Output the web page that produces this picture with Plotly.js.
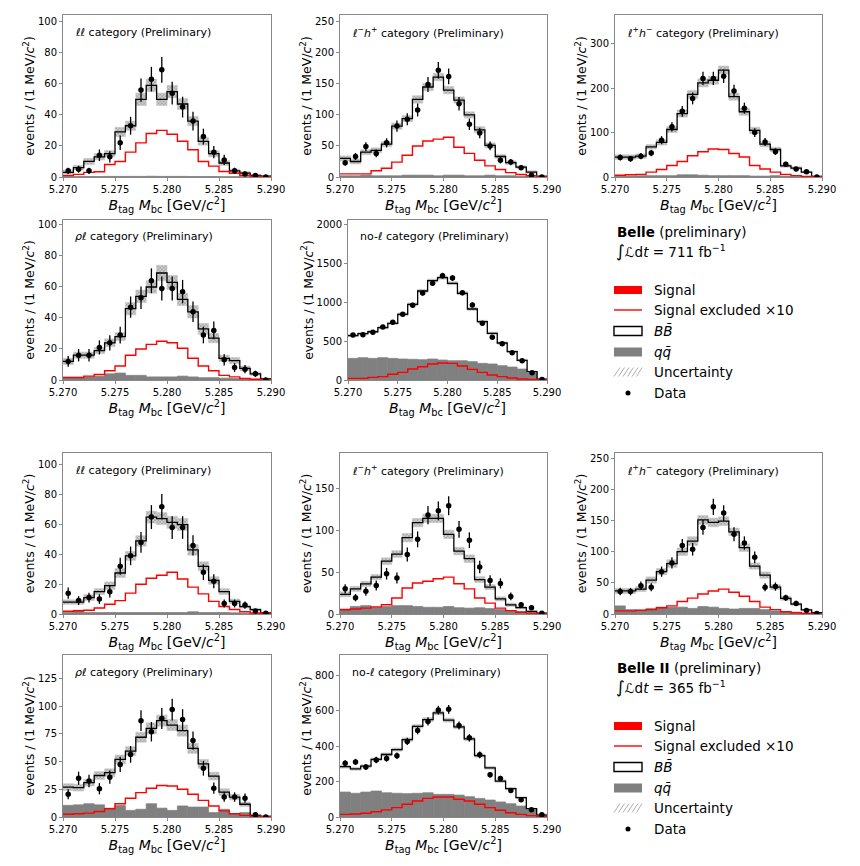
<!DOCTYPE html>
<html><head><meta charset="utf-8">
<script src="https://cdn.plot.ly/plotly-3.0.1.min.js"></script>
<style>html,body{margin:0;padding:0;background:#fff}</style>
</head><body><div id="chart" style="width:860px;height:866px"></div>
<script>
// ---- binning / ticks ----
const binLow = 5.270, binWidth = 0.001, nBins = 20;
const xTickVals = [5.270, 5.275, 5.280, 5.285, 5.290];
const xTickText = ['5.270', '5.275', '5.280', '5.285', '5.290'];

// ---- Belle: ll ----
const belleLL_total = [3,6,10,13,15,29,33,50,59,50,55,47,36,23,15,9,4,2.5,1,0.5];
const belleLL_data  = [4,5,4,14,13,22,33,56,63,69,54,45,36,26,16,11,4,2,1,0];
const belleLL_sigx  = [0.9,1.7,3,3.4,8,10,16,22,28,30,27.5,23,17.5,10,7,3.5,2.4,1,0.5,0.2];
const belleLL_qq    = [0.3,0.3,0.3,0.3,0.4,0.4,0.4,0.4,0.5,0.4,0.4,0.4,0.3,0.3,0.3,0.2,0.2,0.1,0.1,0.1];
const belleLL_unc   = [1.5,1.5,2,2,2,3,3,4,4,4,4,3.5,3,2.5,2,1.5,1,1,0.5,0.3];
// ---- Belle: l-h+ ----
const belleLmHp_total = [30,25,40,43,53,82,94,125,145,161,140,124,100,76,51,33,23,16,8,1];
const belleLmHp_data  = [23,33,49,38,55,82,93,108,149,172,162,118,85,71,50,27,24,15,3,0];
const belleLmHp_sigx  = [5,5,5,10,14,24,35,50,58,61,64,48,38,27,18,12,7,4,2,1];
const belleLmHp_qq    = [2,2,3,2,2,2,3,3,3,2,3,3,2,2,3,2,2,1,1,0];
const belleLmHp_unc   = [4,4,4,4,4,5,5,6,6,6,6,5,5,5,4,3,3,2,2,1];
// ---- Belle: l+h- ----
const belleLpHm_total = [45,45,47,68,78,107,143,186,212,218,241,181,147,105,74,62,25,20,11,1.5];
const belleLpHm_data  = [44,41,47,54,83,113,148,177,222,222,227,194,155,100,79,57,29,18,12,0];
const belleLpHm_sigx  = [4,5,6,11,17,26,35,48,57,63,62,53,45,26,18,11,6,3,1.5,0.5];
const belleLpHm_qq    = [2,2,3,3,3,3,5,5,4,3,3,3,3,2,2,3,2,1,1,0];
const belleLpHm_unc   = [5,5,5,5,6,7,8,9,9,9,9,8,8,7,6,5,3,3,2,1];
// ---- Belle: rho l ----
const belleRhoL_total = [12,16,16,19,24,28,46,54,60,69,63,52,44,33,27,14,12.5,7.5,4,0.7];
const belleRhoL_data  = [12,16,16,21,24,29,47,53,64,59,59,57,44,29,32,13,8,7,4,0];
const belleRhoL_sigx  = [1.5,1.5,2.5,3.5,6,9,16,20,23,25,24,20.5,14,9,6,3,2,1,0.5,0.2];
const belleRhoL_qq    = [2,2,2,2.5,4,4.5,3,3,2,2,2,2.5,2,1.5,1.5,1.2,1,0.5,0.5,0.2];
const belleRhoL_unc   = [2,2,2,2,2.5,2.5,4,4,4,5,4.5,4,4,3.5,3,2,2,1.5,1,0.5];
// ---- Belle: no-l ----
const belleNoL_total = [570,595,620,672,728,844,972,1143,1276,1315,1242,1113,912,749,600,475,364,253,107,8];
const belleNoL_data  = [578,582,612,681,741,844,959,1118,1242,1340,1310,1122,963,728,548,467,351,248,94,5];
const belleNoL_sigx  = [21,21,34,43,73,98,141,171,206,218,214,180,137,98,64,43,26,13,8,4];
const belleNoL_qq    = [278,287,278,287,278,270,266,261,270,257,248,248,236,214,206,184,167,141,98,21];
const belleNoL_unc   = [15,15,15,15,15,18,18,20,20,20,20,20,18,18,15,15,12,12,8,3];
// ---- Belle II: ll ----
const b2LL_total = [8,8,11,15,19,27.5,39,49,65,64,61.5,60,43,32,22.5,15,8.5,5,3,0.7];
const b2LL_data  = [14,9,11,10,15,32,39,48,65,72,58,58,46,28,22,7,7,6,2,0.5];
const b2LL_sigx  = [1.8,2.2,2.5,4,6.5,9,14,20,24,26,28,23.5,18,13.5,8.5,5,3,1.5,0.7,0.3];
const b2LL_qq    = [1,2.5,1,1,1,1,1,1,1,1,1,1,1.5,1,1,1,0.8,0.5,0.3,0.1];
const b2LL_unc   = [1.5,1.5,2,2,2.5,3,3,3.5,4,4,4,4,3.5,3,2.5,2,1.5,1,0.8,0.5];
// ---- Belle II: l-h+ ----
const b2LmHp_total = [23.5,30,36,44,63,71.5,91,109,114,114,95,75,66,41,32,18,11,7.5,3,1];
const b2LmHp_data  = [30,19.5,27,34,48,43,71,89,118,123,129,101,88,56,40,36.5,21,11,7.5,1];
const b2LmHp_sigx  = [5,6,7,8.5,11,19,31,37,39,42,44,36,30,19,13,7,4,2,1,0.5];
const b2LmHp_qq    = [6,9,10,8,9,10,10,9,8,8,9,7.5,7,7.5,6.5,5.5,4,3,1.5,0.5];
const b2LmHp_unc   = [3,3,3,3,4,4,5,5,5,5,5,4.5,4.5,3.5,3,2.5,2,1.5,1,0.5];
// ---- Belle II: l+h- ----
const b2LpHm_total = [37,37,40,54.5,68,81,100,117,151,147,149,132,106.5,77,62.5,43,25,16,6.5,2];
const b2LpHm_data  = [36,36,45.5,43,68,82,110,104,139,172,162,128,114,91,43,44,26,17,5.5,1];
const b2LpHm_sigx  = [5,5,6,7,10,13,20,25.5,32,37,40,35,28.5,20,11,7,3.5,2,1,0.4];
const b2LpHm_qq    = [13,7,6,9,11,11,11,9,12,11,9,8,9,9,7,5,4,3,1.5,0.5];
const b2LpHm_unc   = [4,4,4,5,5,6,6,7,7,7,7,6,6,5,5,4,3,2,1.5,1];
// ---- Belle II: rho l ----
const b2RhoL_total = [27,26.5,31,37.5,40,52,59.5,72,80,87,83,78,62,48,37,22.5,18,11.5,1.5,0.6];
const b2RhoL_data  = [20.5,35,32.5,25.5,36,47.5,56.5,87,77,89,97,88,69,44,26,18,18,17,2,0];
const b2RhoL_sigx  = [2.5,3,3.5,5,7.5,12,17,22,26,28.5,28,25,20.5,15,10,5.5,3,1.5,0.7,0.3];
const b2RhoL_qq    = [10.5,11,12,11,8,10.5,6,7,12,8,6,10,9,9,4,7,3,4,1,0.5];
const b2RhoL_unc   = [3,3,3,3.5,3.5,4,4,4.5,5,5,5,5,4.5,4,3.5,3,2.5,2,1,0.5];
// ---- Belle II: no-l ----
const b2NoL_total = [284,272,287,325,353,381,437,512,550,588,547,509,441,347,278,203,160,109,47,11];
const b2NoL_data  = [303,311,282,322,331,346,427,489,540,604,608,517,447,351,239,218,149,98,41,13];
const b2NoL_sigx  = [15,17,21,30,40,53,72,90,105,113,113,100,90,72,53,38,24,15,8,4];
const b2NoL_qq    = [141,134,141,147,137,134,132,134,137,128,128,124,115,105,96,85,75,62,47,15];
const b2NoL_unc   = [8,8,8,8,9,9,10,10,11,11,11,10,10,9,8,7,6,5,3,2];

// ---- labels ----
const catLL = '<i>ℓℓ</i> category (Preliminary)';
const catLmHp = '<i>ℓ</i><sup>−</sup><i>h</i><sup>+</sup> category (Preliminary)';
const catLpHm = '<i>ℓ</i><sup>+</sup><i>h</i><sup>−</sup> category (Preliminary)';
const catRhoL = '<i>ρℓ</i> category (Preliminary)';
const catNoL = 'no-<i>ℓ</i> category (Preliminary)';
const xTitle = '<i>B</i><sub>tag</sub> <i>M</i><sub>bc</sub> [GeV/<i>c</i><sup>2</sup>]';
const yTitle = 'events / (1 MeV/<i>c</i><sup>2</sup>)';
const legendLabels = ['Signal', 'Signal excluded ×10', '<i>B</i><i>B̄</i>', '<i>q</i><i>q̄</i>', 'Uncertainty', 'Data'];

// ---- panel layout (pixel boxes) ----
const W = 860, H = 866;
const panels = [
  {lab:catLL,   t:belleLL_total,  d:belleLL_data,  s:belleLL_sigx,  q:belleLL_qq,  u:belleLL_unc,  bx:[63,271],  by:[15,177],  yr:104.3, dt:20},
  {lab:catLmHp, t:belleLmHp_total,d:belleLmHp_data,s:belleLmHp_sigx,q:belleLmHp_qq,u:belleLmHp_unc,bx:[340,547], by:[15,177],  yr:261,   dt:50},
  {lab:catLpHm, t:belleLpHm_total,d:belleLpHm_data,s:belleLpHm_sigx,q:belleLpHm_qq,u:belleLpHm_unc,bx:[615,822], by:[15,177],  yr:365,   dt:100},
  {lab:catRhoL, t:belleRhoL_total,d:belleRhoL_data,s:belleRhoL_sigx,q:belleRhoL_qq,u:belleRhoL_unc,bx:[63,271],  by:[220,380], yr:103.2, dt:20},
  {lab:catNoL,  t:belleNoL_total, d:belleNoL_data, s:belleNoL_sigx, q:belleNoL_qq, u:belleNoL_unc, bx:[348,547], by:[220,380], yr:2055,  dt:500},
  {lab:catLL,   t:b2LL_total,     d:b2LL_data,     s:b2LL_sigx,     q:b2LL_qq,     u:b2LL_unc,     bx:[63,271],  by:[453,614], yr:108,   dt:20},
  {lab:catLmHp, t:b2LmHp_total,   d:b2LmHp_data,   s:b2LmHp_sigx,   q:b2LmHp_qq,   u:b2LmHp_unc,   bx:[340,547], by:[453,614], yr:192,   dt:50},
  {lab:catLpHm, t:b2LpHm_total,   d:b2LpHm_data,   s:b2LpHm_sigx,   q:b2LpHm_qq,   u:b2LpHm_unc,   bx:[615,822], by:[453,614], yr:258.5, dt:50},
  {lab:catRhoL, t:b2RhoL_total,   d:b2RhoL_data,   s:b2RhoL_sigx,   q:b2RhoL_qq,   u:b2RhoL_unc,   bx:[63,271],  by:[655,817], yr:146.3, dt:25},
  {lab:catNoL,  t:b2NoL_total,    d:b2NoL_data,    s:b2NoL_sigx,    q:b2NoL_qq,    u:b2NoL_unc,    bx:[340,547], by:[655,817], yr:915,   dt:200}
];

const FONT = 'DejaVu Sans, sans-serif';
const centers = Array.from({length:nBins}, (_, i) => +(binLow + (i + 0.5) * binWidth).toFixed(4));
const edges = Array.from({length:nBins + 1}, (_, i) => +(binLow + i * binWidth).toFixed(4));
const stepY = arr => arr.concat([arr[arr.length - 1]]);

const traces = [];
const layout = {
  width: W, height: H, margin: {l:0, r:0, t:0, b:0},
  paper_bgcolor: '#fff', plot_bgcolor: '#fff',
  showlegend: false, barmode: 'overlay',
  font: {family: FONT, color: '#000'},
  annotations: [], shapes: []
};

panels.forEach((p, i) => {
  const n = i + 1, sx = n === 1 ? '' : String(n);
  const xa = 'x' + sx, ya = 'y' + sx;
  traces.push({type:'bar', x:centers, y:p.q, width:binWidth, xaxis:xa, yaxis:ya,
    marker:{color:'#808080', line:{width:0.7, color:'#808080'}}, hoverinfo:'skip'});
  traces.push({type:'bar', x:centers, y:p.u.map(v => 2 * v), base:p.t.map((v, j) => v - p.u[j]),
    width:binWidth, xaxis:xa, yaxis:ya, hoverinfo:'skip',
    marker:{color:'#cccccc', line:{width:0.6, color:'#c4c4c4'},
      pattern:{shape:'x', fgcolor:'#8c8c8c', bgcolor:'#cfcfcf', size:2.5, solidity:0.35}}});
  traces.push({type:'scatter', mode:'lines', x:edges, y:stepY(p.t), xaxis:xa, yaxis:ya,
    line:{shape:'hv', color:'#000', width:1.3}, hoverinfo:'skip'});
  traces.push({type:'scatter', mode:'lines', x:edges, y:stepY(p.s), xaxis:xa, yaxis:ya,
    line:{shape:'hv', color:'#ff0000', width:1.4}, hoverinfo:'skip'});
  traces.push({type:'scatter', mode:'markers', x:centers, y:p.d, xaxis:xa, yaxis:ya,
    marker:{color:'#000', size:5.5},
    error_y:{type:'sqrt', color:'#000', thickness:1.3, width:0}});

  layout['xaxis' + sx] = {
    domain:[p.bx[0] / W, p.bx[1] / W], range:[binLow, binLow + nBins * binWidth], anchor:ya,
    tickmode:'array', tickvals:xTickVals, ticktext:xTickText,
    ticks:'outside', ticklen:3, tickcolor:'#888', showline:true, linecolor:'#888', linewidth:1, mirror:true,
    showgrid:false, zeroline:false, tickfont:{size:10, family:FONT, color:'#000'},
    title:{text:xTitle, font:{size:14, family:FONT, color:'#000'}, standoff:3}
  };
  layout['yaxis' + sx] = {
    domain:[1 - p.by[1] / H, 1 - p.by[0] / H], range:[0, p.yr], anchor:xa, dtick:p.dt,
    ticks:'outside', ticklen:3, tickcolor:'#888', showline:true, linecolor:'#888', linewidth:1, mirror:true,
    showgrid:false, zeroline:false, tickfont:{size:10, family:FONT, color:'#000'},
    title:{text:yTitle, font:{size:12.5, family:FONT, color:'#000'}, standoff:0}
  };
  layout.annotations.push({xref:xa + ' domain', yref:ya + ' domain', x:0, y:1, xanchor:'left', yanchor:'middle',
    xshift:10, yshift:-17, text:p.lab, showarrow:false, font:{size:11, family:FONT, color:'#000'}});
});

// ---- manual legend blocks ----
const px = x => x / W, py = y => 1 - y / H;
function legendBlock(dy, experiment, lumi) {
  const A = layout.annotations, S = layout.shapes;
  A.push({xref:'paper', yref:'paper', x:px(615), y:py(232 + dy), xanchor:'left', yanchor:'middle', showarrow:false,
    text:'<b>' + experiment + '</b> (preliminary)', font:{size:13.5, family:FONT, color:'#000'}});
  A.push({xref:'paper', yref:'paper', x:px(614), y:py(251 + dy), xanchor:'left', yanchor:'middle', showarrow:false,
    text:'<span style="font-size:17px">∫</span><i>ℒ</i>d<i>t</i> = ' + lumi + ' fb<sup>−1</sup>', font:{size:13.5, family:FONT, color:'#000'}});
  const rows = [290, 310, 331, 352, 372, 393].map(v => v + dy);
  rows.forEach((yy, k) => {
    A.push({xref:'paper', yref:'paper', x:px(652), y:py(yy), xanchor:'left', yanchor:'middle', showarrow:false,
      text:legendLabels[k], font:{size:13.5, family:FONT, color:'#000'}});
  });
  S.push({type:'rect', xref:'paper', yref:'paper', x0:px(614), x1:px(642), y0:py(rows[0] + 4), y1:py(rows[0] - 4),
    fillcolor:'#ff0000', line:{width:0}});
  S.push({type:'line', xref:'paper', yref:'paper', x0:px(614), x1:px(642), y0:py(rows[1]), y1:py(rows[1]),
    line:{color:'#ff0000', width:1.4}});
  S.push({type:'rect', xref:'paper', yref:'paper', x0:px(614), x1:px(642), y0:py(rows[2] + 4.5), y1:py(rows[2] - 4.5),
    fillcolor:'#fff', line:{color:'#000', width:1.4}});
  S.push({type:'rect', xref:'paper', yref:'paper', x0:px(614), x1:px(642), y0:py(rows[3] + 4.5), y1:py(rows[3] - 4.5),
    fillcolor:'#808080', line:{width:0}});
  for (let k = 0; k < 6; k++) {
    const x0 = 614 + 4.5 * k;
    S.push({type:'line', xref:'paper', yref:'paper', x0:px(x0), x1:px(Math.min(x0 + 6, 642)),
      y0:py(rows[4] + 4.5), y1:py(rows[4] - 4.5), line:{color:'#9a9a9a', width:0.8}});
  }
  S.push({type:'circle', xref:'paper', yref:'paper', x0:px(625.5), x1:px(630.5), y0:py(rows[5] + 2.5), y1:py(rows[5] - 2.5),
    fillcolor:'#000', line:{width:0}});
}
legendBlock(0, 'Belle', '711');
legendBlock(436, 'Belle II', '365');

Plotly.newPlot('chart', traces, layout, {staticPlot:true, displayModeBar:false});
</script>
</body></html>
